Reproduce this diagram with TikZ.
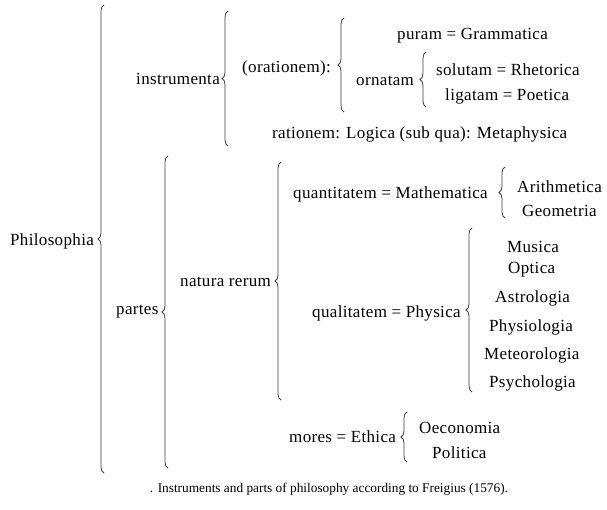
\documentclass[tikz,border=0pt]{standalone}
\usepackage{fontspec}
\setmainfont{Liberation Serif}
\usetikzlibrary{decorations.pathreplacing}
\newcommand{\mainsize}{\fontsize{17}{20}\selectfont\addfontfeature{LetterSpace=2}}
\begin{document}
\begin{tikzpicture}[x=1pt,y=-1pt,
  lbl/.style={anchor=west, inner sep=0pt, font=\mainsize},
  brc/.style={decorate, decoration={brace, amplitude=6pt}, line width=0.8pt, draw=black!75}]
\useasboundingbox[fill=white] (0,0) rectangle (607,509);
% text nodes
\node[lbl] (philo) at (10,241) {Philosophia};
\node[lbl] (instr) at (136,79) {instrumenta};
\node[lbl] (orat) at (242,68) {(orationem):};
\node[lbl] (puram) at (397,36) {puram = Grammatica};
\node[lbl] (ornat) at (356,81) {ornatam};
\node[lbl] (solut) at (436,70) {solutam = Rhetorica};
\node[lbl] (ligat) at (445,96) {ligatam = Poetica};
\node[lbl] (ration) at (272,134) {rationem: Logica (sub qua): Metaphysica};
\node[lbl] (partes) at (116,312) {partes};
\node[lbl] (natura) at (180,282) {natura rerum};
\node[lbl] (quant) at (293,194) {quantitatem = Mathematica};
\node[lbl] (arith) at (517,187) {Arithmetica};
\node[lbl] (geom) at (522,211) {Geometria};
\node[lbl] (qual) at (312,313) {qualitatem = Physica};
\node[lbl] (musica) at (507,247) {Musica};
\node[lbl] (optica) at (508,270) {Optica};
\node[lbl] (astro) at (495,298) {Astrologia};
\node[lbl] (physio) at (489,327) {Physiologia};
\node[lbl] (meteo) at (484,355) {Meteorologia};
\node[lbl] (psych) at (489,383) {Psychologia};
\node[lbl] (mores) at (289,437) {mores = Ethica};
\node[lbl] (oecon) at (419,428) {Oeconomia};
\node[lbl] (polit) at (432,453) {Politica};
\node[inner sep=0pt] (caption) at (329,489) {\resizebox{358pt}{!}{\fontsize{13}{15}\selectfont . Instruments and parts of philosophy according to Freigius (1576).}};
% brace ends (bar x + 3)
\coordinate (b1t) at (104,5);   \coordinate (b1b) at (104,473);
\coordinate (b2t) at (228,11);  \coordinate (b2b) at (228,146);
\coordinate (b3t) at (344,18);  \coordinate (b3b) at (344,112);
\coordinate (b4t) at (426,52);  \coordinate (b4b) at (426,107);
\coordinate (b5t) at (168,156); \coordinate (b5b) at (168,468);
\coordinate (b6t) at (281,162); \coordinate (b6b) at (281,400);
\coordinate (b7t) at (505,167); \coordinate (b7b) at (505,218);
\coordinate (b8t) at (472,228); \coordinate (b8b) at (472,392);
\coordinate (b9t) at (407,412); \coordinate (b9b) at (407,462);
\foreach \b in {b1,b2,b3,b4,b5,b6,b7,b8,b9}{
  \draw[brc] (\b b) -- (\b t);
}
\end{tikzpicture}
\end{document}
